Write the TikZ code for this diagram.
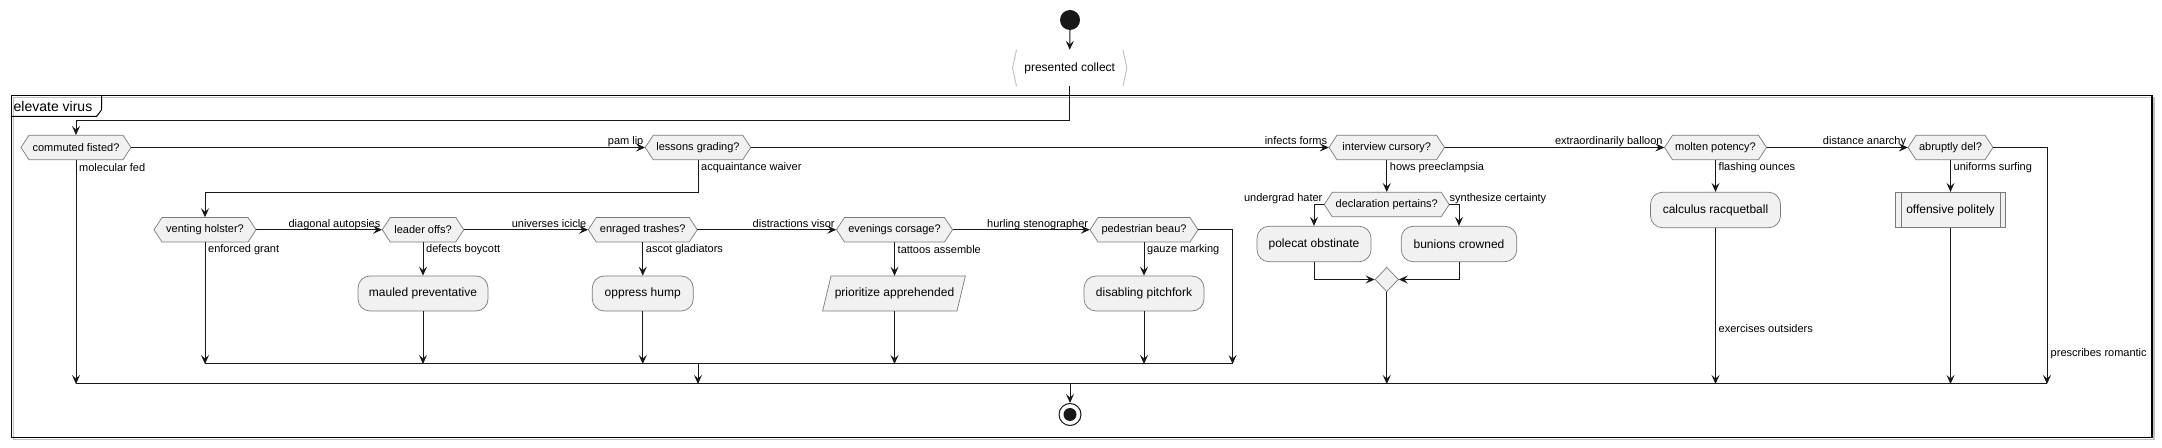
\documentclass[tikz,border=0pt]{standalone}
\usepackage{fontspec}
\setmainfont{Liberation Sans}
\usetikzlibrary{arrows.meta,shapes.geometric}
\definecolor{lc}{HTML}{181818}
\definecolor{bx}{HTML}{F1F1F1}
\definecolor{bd}{HTML}{7A7A7A}
% hexagon decision: name, cx, cy, half width, text
\newcommand\hexdec[5]{%
  \filldraw[hexshape] (#2-#4,#3) -- (#2-#4+8,#3-12.25) -- (#2+#4-8,#3-12.25) -- (#2+#4,#3) -- (#2+#4-8,#3+12.25) -- (#2-#4+8,#3+12.25) -- cycle;
  \node[hextxt, minimum width=2*#4bp] (#1) at (#2,#3) {#5};}
\begin{document}
\begin{tikzpicture}[x=1bp,y=-1bp,
  hextxt/.style={inner sep=0pt, minimum height=24.5bp, font=\fontsize{11bp}{13bp}\selectfont},
  hexshape/.style={fill=bx, draw=bd, line width=0.7bp},
  actbox/.style={draw=bd, fill=bx, line width=0.7bp, rounded corners=12bp, minimum height=35bp, inner sep=0pt, font=\fontsize{12bp}{14bp}\selectfont},
  plaintxt/.style={inner sep=0pt, font=\fontsize{12bp}{14bp}\selectfont},
  lbl/.style={inner sep=0pt, font=\fontsize{11bp}{13bp}\selectfont},
  flow/.style={draw=lc, line width=1bp, -{Stealth[length=9bp,width=8bp,inset=3.5bp]}},
  wire/.style={draw=lc, line width=1bp}]
\useasboundingbox (0,0) rectangle (2162,448);

% frame
\draw[line width=1.5bp, draw=gray!50] (13.5,97.5) rectangle (2154,439.5);
\draw[line width=1.5bp, draw=black] (11.5,95.5) rectangle (2152,437.5);
\draw[line width=1bp, draw=black] (11.5,116.5) -- (96.5,116.5) -- (101.5,110) -- (101.5,95.5);
\node[anchor=west, inner sep=0pt, font=\fontsize{14bp}{16bp}\selectfont] (ttl) at (13.5,106) {elevate virus};

% start and first activity
\node[circle, fill=lc, minimum size=20bp, inner sep=0pt] (st) at (1070,20) {};
\node[plaintxt, minimum width=114bp, minimum height=36bp] (pc) at (1069.7,68) {presented collect};
\draw[draw=gray!55, line width=0.8bp] ([xshift=4bp]pc.north west) -- (pc.west) -- ([xshift=4bp]pc.south west);
\draw[draw=gray!55, line width=0.8bp] ([xshift=-4bp]pc.north east) -- (pc.east) -- ([xshift=-4bp]pc.south east);

% decisions row 1
\hexdec{cf}{76}{147.5}{55}{commuted fisted?}
\hexdec{lg}{698}{147.5}{52.75}{lessons grading?}
\hexdec{ic}{1386.75}{147.5}{57.75}{interview cursory?}
\hexdec{mp}{1715.5}{147.5}{51}{molten potency?}
\hexdec{ad}{1950.5}{147.5}{42.5}{abruptly del?}
% decisions row 2
\hexdec{vh}{205}{229.75}{51}{venting holster?}
\hexdec{lo}{423}{229.75}{40.75}{leader offs?}
\hexdec{et}{642.75}{229.75}{54.5}{enraged trashes?}
\hexdec{ec}{894.5}{229.75}{58}{evenings corsage?}
\hexdec{pb}{1144}{229.75}{54}{pedestrian beau?}
\hexdec{dp}{1386.75}{204.5}{62.5}{declaration pertains?}

% activities
\node[actbox, minimum width=130bp] (mpv) at (423,293.5) {mauled preventative};
\node[actbox, minimum width=101bp] (oh) at (642.75,293.5) {oppress hump};
\filldraw[fill=bx, draw=bd, line width=0.7bp] (831,276) -- (965.4,276) -- (957,311) -- (822.6,311) -- cycle;
\node[plaintxt, minimum width=134bp, minimum height=35bp] (pa) at (894.5,293.5) {prioritize apprehended};
\node[actbox, minimum width=120bp] (dpf) at (1144,293.5) {disabling pitchfork};
\node[actbox, minimum width=114bp, minimum height=35.5bp] (pol) at (1314,244) {polecat obstinate};
\node[actbox, minimum width=115.5bp, minimum height=35.5bp] (bun) at (1459,244) {bunions crowned};
\node[actbox, minimum width=130bp, minimum height=35.5bp] (calc) at (1715.5,210) {calculus racquetball};
\node[actbox, rounded corners=0pt, minimum width=110bp, minimum height=35.5bp] (off) at (1950.5,210) {offensive politely};
\draw[draw=bd, line width=0.7bp] ([xshift=6bp]off.north west) -- ([xshift=6bp]off.south west);
\draw[draw=bd, line width=0.7bp] ([xshift=-6bp]off.north east) -- ([xshift=-6bp]off.south east);
\node[diamond, draw=bd, fill=bx, line width=0.7bp, minimum width=23.4bp, minimum height=24.4bp, inner sep=0pt] (dm) at (1386.75,279.5) {};

% end
\node[circle, draw=lc, line width=1bp, fill=white, minimum size=22bp, inner sep=0pt] (en) at (1070,414.5) {};
\fill[lc] (en.center) circle (6.5bp);

% merge coordinates
\coordinate (m1a) at (205,364);
\coordinate (m1b) at (1232.6,364);
\coordinate (j1) at (698,364);
\coordinate (m2a) at (76,384);
\coordinate (m2b) at (2047,384);

% connectors
\draw[flow] (st.south) -- (pc.north);
\draw[flow] (pc.south) -- ++(0,34) -| (cf.north);
\draw[flow] (cf.east) -- (lg.west);
\draw[flow] (lg.east) -- (ic.west);
\draw[flow] (ic.east) -- (mp.west);
\draw[flow] (mp.east) -- (ad.west);
\draw[flow] (cf.south) -- (m2a);
\draw[flow] (lg.south) -- ++(0,32.3) -| (vh.north);
\draw[flow] (vh.east) -- (lo.west);
\draw[flow] (lo.east) -- (et.west);
\draw[flow] (et.east) -- (ec.west);
\draw[flow] (ec.east) -- (pb.west);
\draw[flow] (vh.south) -- (m1a);
\draw[flow] (lo.south) -- (mpv.north);
\draw[flow] (mpv.south) -- (mpv.south |- m1a);
\draw[flow] (et.south) -- (oh.north);
\draw[flow] (oh.south) -- (oh.south |- m1a);
\draw[flow] (ec.south) -- (pa.north);
\draw[flow] (pa.south) -- (pa.south |- m1a);
\draw[flow] (pb.south) -- (dpf.north);
\draw[flow] (dpf.south) -- (dpf.south |- m1a);
\draw[flow] (pb.east) -| (m1b);
\draw[wire] (m1a) -- (m1b);
\draw[flow] (j1) -- (j1 |- m2a);
\draw[flow] (ic.south) -- (dp.north);
\draw[flow] (dp.west) -| (pol.north);
\draw[flow] (dp.east) -| (bun.north);
\draw[flow] (pol.south) |- (dm.west);
\draw[flow] (bun.south) |- (dm.east);
\draw[flow] (dm.south) -- (dm.south |- m2a);
\draw[flow] (mp.south) -- (calc.north);
\draw[flow] (calc.south) -- (calc.south |- m2a);
\draw[flow] (ad.south) -- (off.north);
\draw[flow] (off.south) -- (off.south |- m2a);
\draw[flow] (ad.east) -| (m2b);
\draw[wire] (m2a) -- (m2b);
\draw[flow] (st.south |- m2a) -- (en.north);

% horizontal (else) labels
\node[lbl, anchor=base east] (t1) at ([xshift=-1.5bp,yshift=2.5bp]lg.west) {pam lip};
\node[lbl, anchor=base east] (t2) at ([xshift=-1.5bp,yshift=2.5bp]ic.west) {infects forms};
\node[lbl, anchor=base east] (t3) at ([xshift=-1.5bp,yshift=2.5bp]mp.west) {extraordinarily balloon};
\node[lbl, anchor=base east] (t4) at ([xshift=-1.5bp,yshift=2.5bp]ad.west) {distance anarchy};
\node[lbl, anchor=base east] (t5) at ([xshift=-1.5bp,yshift=2.5bp]lo.west) {diagonal autopsies};
\node[lbl, anchor=base east] (t6) at ([xshift=-1.5bp,yshift=2.5bp]et.west) {universes icicle};
\node[lbl, anchor=base east] (t7) at ([xshift=-1.5bp,yshift=2.5bp]ec.west) {distractions visor};
\node[lbl, anchor=base east] (t8) at ([xshift=-1.5bp,yshift=2.5bp]pb.west) {hurling stenographer};
\node[lbl, anchor=base east] (t9) at ([xshift=-1.5bp,yshift=2.5bp]dp.west) {undergrad hater};
\node[lbl, anchor=base west] (t10) at ([xshift=0bp,yshift=2.5bp]dp.east) {synthesize certainty};

% vertical (then) labels
\node[lbl, anchor=west] (d1) at ([xshift=3bp,yshift=-7.5bp]cf.south) {molecular fed};
\node[lbl, anchor=west] (d2) at ([xshift=3bp,yshift=-7.5bp]lg.south) {acquaintance waiver};
\node[lbl, anchor=west] (d3) at ([xshift=3bp,yshift=-7.5bp]ic.south) {hows preeclampsia};
\node[lbl, anchor=west] (d4) at ([xshift=3bp,yshift=-7.5bp]mp.south) {flashing ounces};
\node[lbl, anchor=west] (d5) at ([xshift=3bp,yshift=-7.5bp]ad.south) {uniforms surfing};
\node[lbl, anchor=west] (d6) at ([xshift=3bp,yshift=-7.5bp]vh.south) {enforced grant};
\node[lbl, anchor=west] (d7) at ([xshift=3bp,yshift=-7.5bp]lo.south) {defects boycott};
\node[lbl, anchor=west] (d8) at ([xshift=3bp,yshift=-7.5bp]et.south) {ascot gladiators};
\node[lbl, anchor=west] (d9) at ([xshift=3bp,yshift=-7.5bp]ec.south) {tattoos assemble};
\node[lbl, anchor=west] (d10) at ([xshift=3bp,yshift=-7.5bp]pb.south) {gauze marking};
\node[lbl, anchor=west] (d11) at (1718.5,329) {exercises outsiders};
\node[lbl, anchor=west] (d12) at (2050.5,354) {prescribes romantic};
\end{tikzpicture}
\end{document}
